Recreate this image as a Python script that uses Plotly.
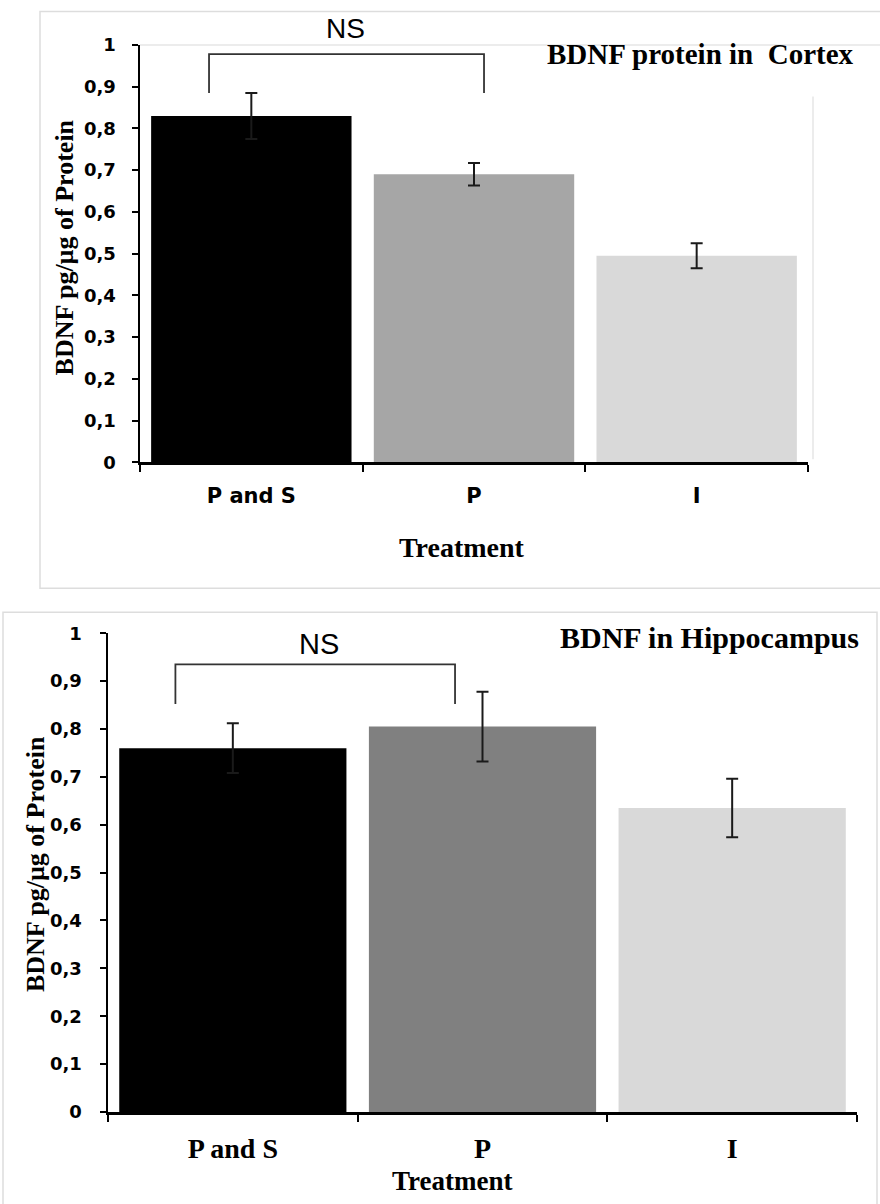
import plotly.graph_objects as go

# ---------------- data ----------------
categories = ["P and S", "P", "I"]
cortex_mean = [0.83, 0.69, 0.495]
cortex_err = [0.055, 0.027, 0.030]
hippo_mean = [0.76, 0.805, 0.635]
hippo_err = [0.052, 0.073, 0.061]
ytick_vals = [0, 0.1, 0.2, 0.3, 0.4, 0.5, 0.6, 0.7, 0.8, 0.9, 1]
ytick_text = ["0", "0,1", "0,2", "0,3", "0,4", "0,5", "0,6", "0,7", "0,8", "0,9", "1"]
cortex_colors = ["#000000", "#a6a6a6", "#d9d9d9"]
hippo_colors = ["#000000", "#808080", "#d9d9d9"]

W, H = 880, 1204
V_SCALE, V_OFF = 0.983, 9.5


def px(x):
    return x / W


def py(y):
    t = (y - V_OFF) / V_SCALE
    return 1 - t / H


SERIF = "Liberation Serif"
SANS_W = "DejaVu Sans"

fig = go.Figure()

fig.add_trace(go.Bar(
    x=categories, y=cortex_mean, marker=dict(color=cortex_colors, line=dict(width=0)),
    width=0.9,
    error_y=dict(type="data", array=cortex_err, visible=True, color="#1a1a1a", thickness=2, width=6),
    xaxis="x", yaxis="y", showlegend=False, hoverinfo="skip",
))
fig.add_trace(go.Bar(
    x=categories, y=hippo_mean, marker=dict(color=hippo_colors, line=dict(width=0)),
    width=0.91,
    error_y=dict(type="data", array=hippo_err, visible=True, color="#1a1a1a", thickness=2, width=6),
    xaxis="x2", yaxis="y2", showlegend=False, hoverinfo="skip",
))

axis_common = dict(showline=True, linecolor="black", linewidth=2.5, showgrid=False, zeroline=False,
                   ticks="outside", tickcolor="black", tickwidth=2, fixedrange=True)

fig.update_layout(
    width=W, height=H, margin=dict(l=0, r=0, t=0, b=0),
    paper_bgcolor="white", plot_bgcolor="rgba(0,0,0,0)",
    bargap=0.1, hovermode=False,
    xaxis=dict(domain=[px(140), px(808)], anchor="y", type="category", range=[-0.5, 2.5],
               tickson="boundaries", ticklen=7, ticklabelstandoff=13,
               tickfont=dict(family=SANS_W, size=21, color="black", weight="bold"), **axis_common),
    yaxis=dict(domain=[py(461), py(43.5)], anchor="x", range=[0, 1], tickvals=ytick_vals, ticktext=ytick_text,
               ticklen=6, ticklabelstandoff=12,
               tickfont=dict(family=SANS_W, size=18, color="black", weight="bold"), **axis_common),
    xaxis2=dict(domain=[px(108), px(857)], anchor="y2", type="category", range=[-0.5, 2.5],
                tickson="boundaries", ticklen=7, ticklabelstandoff=10,
                tickfont=dict(family=SERIF, size=28, color="black", weight="bold"), **axis_common),
    yaxis2=dict(domain=[py(1111), py(632)], anchor="x2", range=[0, 1], tickvals=ytick_vals, ticktext=ytick_text,
                ticklen=6, ticklabelstandoff=14,
                tickfont=dict(family=SANS_W, size=18, color="black", weight="bold"), **axis_common),
)

shapes = []
# outer frames
shapes.append(dict(type="rect", xref="paper", yref="paper", x0=px(40), x1=px(885), y0=py(587), y1=min(py(6), 0.9995),
                   line=dict(color="#dddddd", width=1.5), fillcolor="rgba(0,0,0,0)", layer="below"))
shapes.append(dict(type="rect", xref="paper", yref="paper", x0=px(3), x1=px(877), y0=-0.01, y1=py(611),
                   line=dict(color="#dddddd", width=1.5), fillcolor="rgba(0,0,0,0)", layer="below"))
# inner plot border lines (top chart)
shapes.append(dict(type="line", xref="paper", yref="paper", x0=px(140), x1=px(880), y0=py(43.5), y1=py(43.5),
                   line=dict(color="#e6e6e6", width=1.5), layer="below"))
shapes.append(dict(type="line", xref="paper", yref="paper", x0=px(813), x1=px(813), y0=py(458), y1=py(95),
                   line=dict(color="#e6e6e6", width=1.5), layer="below"))

# significance brackets: (xaxis, yaxis, left idx, right idx, top, foot)
brackets = [("x", "y", -0.19, 1.045, 0.978, 0.885), ("x2", "y2", -0.23, 0.89, 0.935, 0.852)]
for xr, yr, xl, xrt, yt, yf in brackets:
    shapes.append(dict(type="path", xref=xr, yref=yr,
                       path=f"M {xl} {yf} L {xl} {yt} L {xrt} {yt} L {xrt} {yf}",
                       line=dict(color="#333333", width=1.8)))
fig.update_layout(shapes=shapes)

ann = []
# NS labels
ann.append(dict(text="NS", xref="paper", yref="paper", x=px(345), y=py(27), showarrow=False,
                font=dict(family="Liberation Sans", size=28, color="black"), xanchor="center", yanchor="middle"))
ann.append(dict(text="NS", xref="paper", yref="paper", x=px(319), y=py(643), showarrow=False,
                font=dict(family="Liberation Sans", size=29, color="black"), xanchor="center", yanchor="middle"))
# titles
ann.append(dict(text="BDNF protein in  Cortex", xref="paper", yref="paper", x=px(856), y=py(53), showarrow=False,
                font=dict(family=SERIF, size=29, color="black", weight="bold"), xanchor="right", yanchor="middle"))
ann.append(dict(text="BDNF in Hippocampus", xref="paper", yref="paper", x=px(861), y=py(636), showarrow=False,
                font=dict(family=SERIF, size=30, color="black", weight="bold"), xanchor="right", yanchor="middle"))
# y titles
ann.append(dict(text="BDNF pg/µg of Protein", xref="paper", yref="paper", x=px(64), y=py(246), showarrow=False,
                textangle=-90, font=dict(family=SERIF, size=26, color="black", weight="bold"),
                xanchor="center", yanchor="middle"))
ann.append(dict(text="BDNF pg/µg of Protein", xref="paper", yref="paper", x=px(35), y=py(863), showarrow=False,
                textangle=-90, font=dict(family=SERIF, size=26, color="black", weight="bold"),
                xanchor="center", yanchor="middle"))
# x titles
ann.append(dict(text="Treatment", xref="paper", yref="paper", x=px(462), y=py(546), showarrow=False,
                font=dict(family=SERIF, size=28, color="black", weight="bold"), xanchor="center", yanchor="middle"))
ann.append(dict(text="Treatment", xref="paper", yref="paper", x=px(452), y=py(1180), showarrow=False,
                font=dict(family=SERIF, size=27, color="black", weight="bold"), xanchor="center", yanchor="middle"))
fig.update_layout(annotations=ann)

fig.write_html("out.html", config={"displayModeBar": False, "staticPlot": True},
               post_script="document.body.style.margin='0px';document.body.style.overflow='hidden';")
